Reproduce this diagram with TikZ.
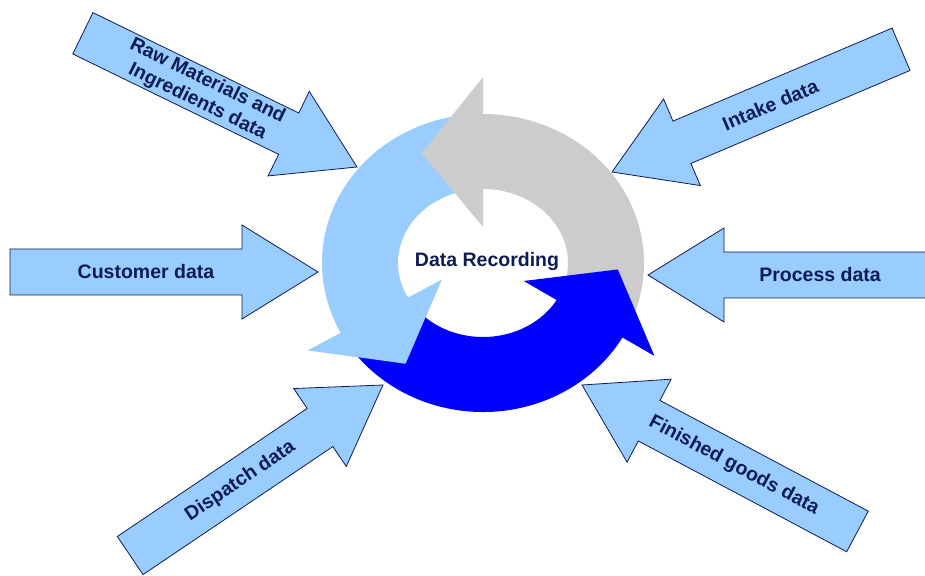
\documentclass[tikz,border=0pt]{standalone}
\usepackage{fontspec}
\setmainfont{Liberation Sans}

\definecolor{paleblue}{RGB}{153,204,255}
\definecolor{ringgray}{RGB}{204,204,204}
\definecolor{deepblue}{RGB}{0,0,255}
\definecolor{navy}{RGB}{14,28,84}

% block arrow pointing at the ring: name, tip, angle, length, text angle, text
\newcommand{\feedarrow}[6]{%
	\begin{scope}[shift={#2}, rotate=#3]
		\draw[feed] (0,0) -- (-76,47) -- (-76,23) -- (-#4,23) -- (-#4,-23) -- (-76,-23) -- (-76,-47) -- cycle;
		\node[feedtext, rotate=#5] (#1) at (-172,0) {#6};
	\end{scope}}

% curved arrow of the ring: colour, tail angle, angle where the head starts
\newcommand{\ringarrow}[3]{%
	\fill[#1] (#2:161 and 149) arc[start angle=#2, end angle=#3, x radius=161, y radius=149]
		-- (#3:198 and 186) -- ({#3+27}:135 and 123) -- (#3:47 and 36)
		-- (#3:85 and 74) arc[start angle=#3, end angle=#2, x radius=85, y radius=74] -- cycle;}

\begin{document}
\begin{tikzpicture}[
		x=1pt, y=1pt,
		feed/.style={draw=navy, fill=paleblue, line width=0.8pt, line join=miter},
		feedtext/.style={font=\bfseries\fontsize{19.5}{23}\selectfont, text=navy, align=center, inner sep=0pt}
	]
	\useasboundingbox (0,0) rectangle (925,575);

	% the cycle
	\begin{scope}[shift={(483,312)}]
		\ringarrow{paleblue}{90}{208}
		\ringarrow{ringgray}{-30}{90}
		\ringarrow{deepblue}{208}{330}
		\ringarrow{paleblue}{203}{208} % head again, on top of the dark tail
	\end{scope}
	\node[feedtext] (rec) at (487,313) {Data Recording};

	% the inputs
	\feedarrow{raw}{(357,408)}{-26}{305}{-26}{Raw Materials and\\ Ingredients data}
	\feedarrow{intake}{(612,403)}{203}{314}{23}{Intake data}
	\feedarrow{cust}{(318,303)}{0}{308}{0}{Customer data}
	\feedarrow{proc}{(648,300)}{180}{300}{0}{Process data}
	\feedarrow{disp}{(383,190)}{34}{305}{34}{Dispatch data}
	\feedarrow{fin}{(582,190)}{152}{312}{-28}{Finished goods data}
\end{tikzpicture}
\end{document}
